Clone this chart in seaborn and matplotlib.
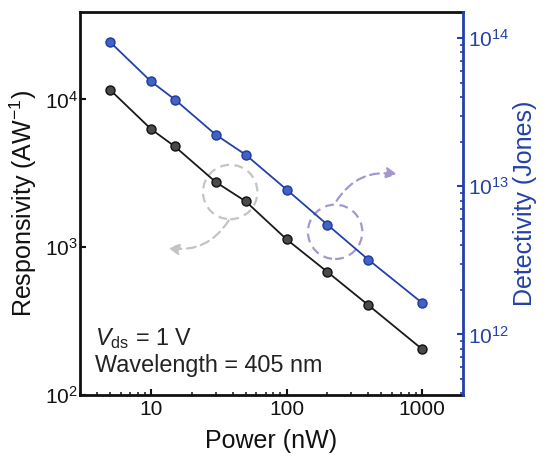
import matplotlib
matplotlib.use("Agg")
import matplotlib.pyplot as plt
import seaborn as sns
import pandas as pd
from matplotlib.patches import Ellipse
from matplotlib.ticker import LogLocator, NullFormatter

# data
power_nw = [5, 10, 15, 30, 50, 100, 200, 400, 1000]
responsivity = [1.16e4, 6.3e3, 4.8e3, 2.76e3, 2.04e3, 1.13e3, 680, 406, 204]
detectivity = [9.4e13, 5.1e13, 3.85e13, 2.23e13, 1.63e13, 9.5e12, 5.5e12, 3.2e12, 1.63e12]

df = pd.DataFrame({"power": power_nw, "R": responsivity, "D": detectivity})

BLUE = "#2341a8"
sns.set_style("ticks")
plt.rcParams["font.family"] = ["Liberation Sans", "DejaVu Sans"]
plt.rcParams["mathtext.fontset"] = "custom"
plt.rcParams["mathtext.rm"] = "Liberation Sans"
plt.rcParams["mathtext.it"] = "Liberation Sans:italic"

fig = plt.figure(figsize=(5.5, 4.67), dpi=100)
ax = fig.add_axes([0.1455, 0.1542, 0.6964, 0.8201])
ax2 = ax.twinx()

sns.lineplot(data=df, x="power", y="R", ax=ax, color="#1a1a1a", lw=1.3,
             marker="o", markersize=6.5, markerfacecolor="#4a4a4a",
             markeredgecolor="#111111", markeredgewidth=1.0)
sns.lineplot(data=df, x="power", y="D", ax=ax2, color=BLUE, lw=1.3,
             marker="o", markersize=6.5, markerfacecolor="#4262c4",
             markeredgecolor="#1d3a9e", markeredgewidth=1.0)

ax.set_xscale("log")
ax.set_yscale("log")
ax2.set_yscale("log")
ax.set_xlim(3, 2000)
ax.set_ylim(100, 3.9e4)
ax2.set_ylim(3.9e11, 1.5e14)

ax.set_xticks([10, 100, 1000])
ax.set_xticklabels(["10", "100", "1000"])
ax.xaxis.set_minor_locator(LogLocator(base=10, subs=range(2, 10)))
ax.xaxis.set_minor_formatter(NullFormatter())
ax.set_yticks([100, 1000, 10000])
ax.yaxis.set_minor_locator(LogLocator(base=10, subs=[]))
ax2.set_yticks([1e12, 1e13, 1e14])
ax2.yaxis.set_minor_locator(LogLocator(base=10, subs=range(2, 10)))
ax2.yaxis.set_minor_formatter(NullFormatter())

ax.tick_params(axis="both", which="major", direction="in", length=4, width=1.5,
               labelsize=15, top=False, colors="#111111")
ax.tick_params(axis="y", which="major", pad=1.5)
ax.tick_params(axis="x", which="minor", direction="in", length=2.5, width=1.2)
ax2.tick_params(axis="y", which="major", direction="in", length=4, width=1.5,
                labelsize=15, colors=BLUE, pad=3.5)
ax2.tick_params(axis="y", which="minor", direction="in", length=2.5, width=1.2,
                colors=BLUE)

for s in ["left", "bottom", "top"]:
    ax.spines[s].set_linewidth(2)
    ax.spines[s].set_color("#111111")
    ax2.spines[s].set_visible(False)
ax.spines["right"].set_visible(False)
ax2.spines["right"].set_color(BLUE)
ax2.spines["right"].set_linewidth(2)

ax.set_xlabel("Power (nW)", fontsize=18, labelpad=7, color="#111111")
ax.set_ylabel("Responsivity (AW$^{-1}$)", fontsize=18, labelpad=4, color="#111111")
ax2.set_ylabel("Detectivity (Jones)", fontsize=18, color=BLUE, labelpad=3)

ax.text(0.04, 0.13, "$V_{\\mathrm{ds}}$ = 1 V", transform=ax.transAxes,
        fontsize=16.8, color="#222222")
ax.text(0.04, 0.06, "Wavelength = 405 nm", transform=ax.transAxes,
        fontsize=16.8, color="#222222")

# dashed circles and arrows pointing to the matching axis
GRAY = "#c4c4c4"
PURPLE = "#a597d0"
ax.add_patch(Ellipse((0.392, 0.530), 0.142, 0.142, transform=ax.transAxes,
                     fill=False, ls=(0, (4, 2.5)), lw=1.6, ec=GRAY, zorder=1))
ax.add_patch(Ellipse((0.666, 0.426), 0.142, 0.142, transform=ax.transAxes,
                     fill=False, ls=(0, (4, 2.5)), lw=1.6, ec=PURPLE, zorder=1))
ax.annotate("", xy=(0.222, 0.386), xytext=(0.392, 0.462),
            xycoords="axes fraction", textcoords="axes fraction",
            arrowprops=dict(arrowstyle="-|>", color=GRAY, lw=1.6, ls=(0, (4, 2.5)),
                            connectionstyle="arc3,rad=-0.35", mutation_scale=16))
ax.annotate("", xy=(0.836, 0.574), xytext=(0.666, 0.501),
            xycoords="axes fraction", textcoords="axes fraction",
            arrowprops=dict(arrowstyle="-|>", color=PURPLE, lw=1.6, ls=(0, (4, 2.5)),
                            connectionstyle="arc3,rad=-0.35", mutation_scale=16))

fig.savefig("out.png", dpi=100)
